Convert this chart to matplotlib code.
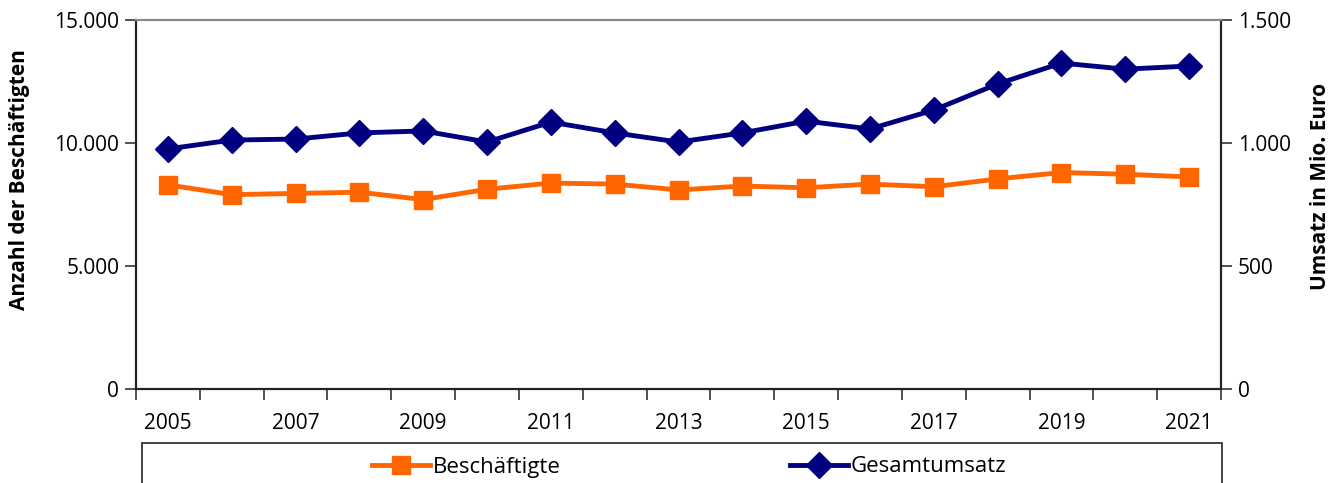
import matplotlib
matplotlib.use("Agg")
import matplotlib.pyplot as plt
from matplotlib.ticker import FuncFormatter, FixedLocator
from matplotlib.lines import Line2D
from matplotlib.patches import Rectangle

plt.rcParams['font.family'] = ['Open Sans', 'DejaVu Sans']

years = [2005, 2006, 2007, 2008, 2009, 2010, 2011, 2012, 2013, 2014,
         2015, 2016, 2017, 2018, 2019, 2020, 2021]
beschaeftigte = [8300, 7900, 7950, 8000, 7700, 8120, 8370, 8330, 8090, 8250,
                 8180, 8330, 8220, 8540, 8800, 8730, 8620]
umsatz = [976, 1012, 1016, 1041, 1049, 1004, 1085, 1041, 1004, 1041,
          1089, 1057, 1134, 1240, 1325, 1300, 1313]

orange = '#FF6600'
navy = '#000080'

W, H = 1342, 483
fig = plt.figure(figsize=(W / 100, H / 100), dpi=100)
ax = fig.add_axes([136 / W, 1 - 389 / H, (1221 - 136) / W, (389 - 20) / H])
ax2 = ax.twinx()

x = list(range(len(years)))
ax.plot(x, beschaeftigte, color=orange, lw=3.5, marker='s', ms=13.5, zorder=3)
ax2.plot(x, umsatz, color=navy, lw=3.5, marker='D', ms=13, zorder=3)

ax.set_xlim(-0.5, len(years) - 0.5)
ax.set_ylim(0, 15000)
ax2.set_ylim(0, 1500)
ax.set_yticks([0, 5000, 10000, 15000])
ax2.set_yticks([0, 500, 1000, 1500])
fmt = FuncFormatter(lambda v, p: f"{int(v):,}".replace(',', '.'))
ax.yaxis.set_major_formatter(fmt)
ax2.yaxis.set_major_formatter(fmt)

# x ticks: labels at odd years (centers), tick marks at boundaries
ax.set_xticks([i for i, y in enumerate(years) if y % 2 == 1])
ax.set_xticklabels([str(y) for y in years if y % 2 == 1])
ax.xaxis.set_minor_locator(FixedLocator([i - 0.5 for i in range(len(years) + 1)]))
ax.tick_params(axis='x', which='major', length=0, pad=17, labelsize=15)
ax.tick_params(axis='x', which='minor', length=8, width=1.2, color='#333333', direction='out')
ax.tick_params(axis='y', length=8, width=1.2, color='#333333', labelsize=15, pad=4)
ax2.tick_params(axis='y', length=8, width=1.2, color='#333333', labelsize=15, pad=4)

for a in (ax, ax2):
    a.spines['top'].set_color('#888888')
    a.spines['top'].set_linewidth(1.5)
    for s in ('left', 'right', 'bottom'):
        a.spines[s].set_color('#222222')
        a.spines[s].set_linewidth(1.5)

ax.set_ylabel('Anzahl der Beschäftigten', fontsize=15, fontweight='bold')
ax2.set_ylabel('Umsatz in Mio. Euro', fontsize=15, fontweight='bold')
ax.yaxis.set_label_coords((30 - 136) / 1085, (389 - 180) / 369)
ax2.yaxis.set_label_coords((1310 - 136) / 1085, (389 - 186) / 369)

# legend box
rect = Rectangle((142 / W, -0.05), (1222 - 142) / W, 1 - 443 / H + 0.05,
                 transform=fig.transFigure, fill=False, edgecolor='#222222', lw=1.2)
fig.patches.append(rect)
h1 = Line2D([], [], color=orange, lw=3.5, marker='s', ms=13.5)
h2 = Line2D([], [], color=navy, lw=3.5, marker='D', ms=13)
leg1 = fig.legend([h1], ['Beschäftigte'], loc='center left',
                  bbox_to_anchor=(372 / W, 1 - 467 / H), frameon=False,
                  fontsize=16, handlelength=2.6, handletextpad=0.15,
                  borderpad=0, borderaxespad=0)
leg2 = fig.legend([h2], ['Gesamtumsatz'], loc='center left',
                  bbox_to_anchor=(790 / W, 1 - 467 / H), frameon=False,
                  fontsize=16, handlelength=2.6, handletextpad=0.15,
                  borderpad=0, borderaxespad=0)

fig.savefig('out.png', dpi=100)
